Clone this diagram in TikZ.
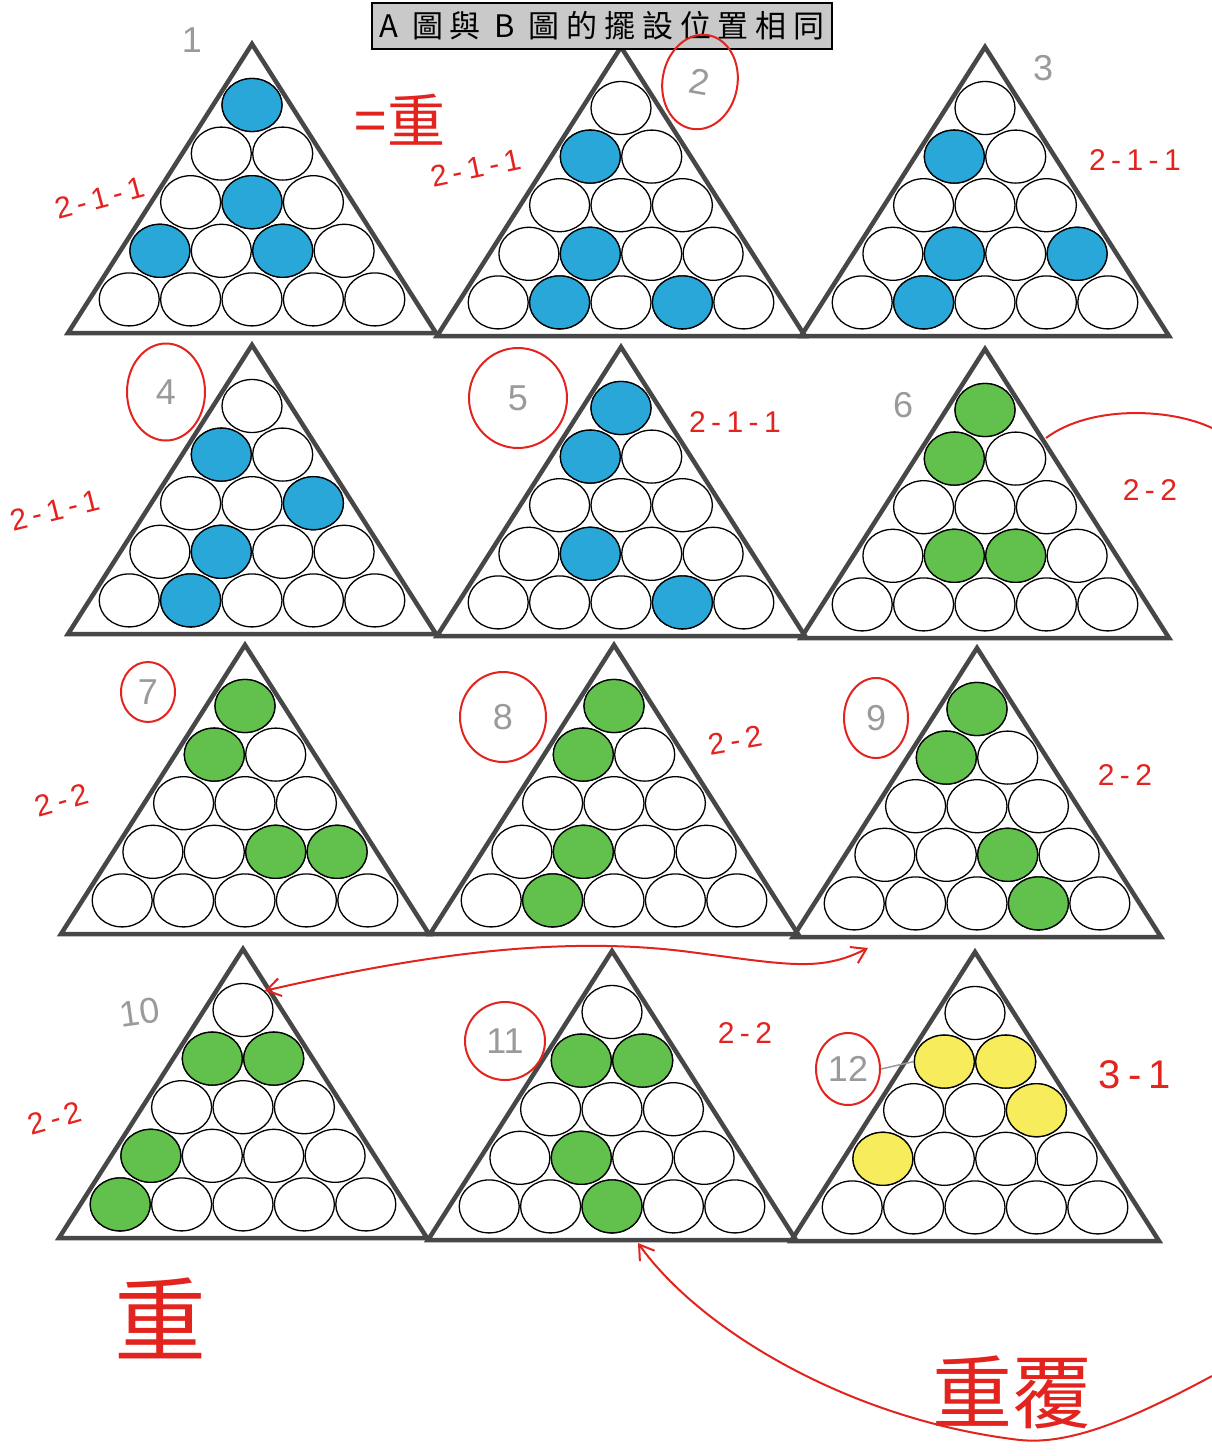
\documentclass[tikz,border=0pt]{standalone}
\usepackage{fontspec}
\setmainfont{Liberation Sans}
\newfontfamily\cjk{Noto Sans CJK TC}
\newfontfamily\baslikFont[LetterSpace=22]{Noto Sans CJK TC}
\newfontfamily\notFont[LetterSpace=18]{Liberation Sans}
\usetikzlibrary{arrows.meta,shapes.geometric}
\definecolor{topMavi}{HTML}{2AA7D9}
\definecolor{topYesil}{HTML}{62C04C}
\definecolor{topSari}{HTML}{F6EC5C}
\definecolor{kirmizi}{HTML}{E3231E}
\definecolor{ucgenGri}{HTML}{474747}
\definecolor{kursunGri}{HTML}{9A9A9A}
\definecolor{baslikGri}{HTML}{C9C9C9}
% #1 ad, #2-#3 tepe, #4 renk, #5 dolu bilyeler (sira/sutun)
\newcommand{\ucgen}[5]{%
  \draw[ucgenCizgi] (#2,#3) -- ++(-184,289) -- ++(368,0) -- cycle;
  \foreach \sira in {1,...,5}
    \foreach \sutun in {1,...,\sira}
      \node[bilye] (#1-\sira-\sutun) at ({#2+(\sutun-(\sira+1)/2)*61.4},{#3+61+(\sira-1)*48.6}) {};
  \foreach \sira/\sutun in {#5}
    \node[bilye,fill=#4] (#1-\sira-\sutun-dolu) at (#1-\sira-\sutun) {};
}

\begin{document}
\begin{tikzpicture}[x=1pt,y=-1pt,>={Straight Barb[length=14pt,width=18pt]},
  bilye/.style={ellipse,draw=black,line width=1.3pt,fill=white,minimum width=60pt,minimum height=53pt,inner sep=0pt},
  ucgenCizgi/.style={draw=ucgenGri,line width=4.5pt,line join=miter},
  notYazi/.style={text=kirmizi,font=\notFont\fontsize{30}{32}\selectfont},
  kursunYazi/.style={text=kursunGri,font=\fontsize{36}{38}\selectfont},
  daire/.style={ellipse,draw=kirmizi,line width=2pt,text=kursunGri,font=\fontsize{36}{38}\selectfont,inner sep=0pt},
  okCizgi/.style={kirmizi,line width=2pt}]
\useasboundingbox[fill=white] (0,0) rectangle (1212,1456);

\ucgen{t1}{252}{44}{topMavi}{1/1,3/2,4/1,4/3}
\ucgen{t2}{621}{47}{topMavi}{2/1,4/2,5/2,5/4}
\ucgen{t3}{985}{47}{topMavi}{2/1,4/2,4/4,5/2}
\ucgen{t4}{252}{345}{topMavi}{2/1,3/3,4/2,5/2}
\ucgen{t5}{621}{347}{topMavi}{1/1,2/1,4/2,5/4}
\ucgen{t6}{985}{349}{topYesil}{1/1,2/1,4/2,4/3}
\ucgen{t7}{245}{645}{topYesil}{1/1,2/1,4/3,4/4}
\ucgen{t8}{614}{645}{topYesil}{1/1,2/1,4/2,5/2}
\ucgen{t9}{977}{648}{topYesil}{1/1,2/1,4/3,5/4}
\ucgen{t10}{243}{949}{topYesil}{2/1,2/2,4/1,5/1}
\ucgen{t11}{612}{951}{topYesil}{2/1,2/2,4/2,5/3}
\ucgen{t12}{975}{952}{topSari}{2/1,2/2,3/3,4/1}

\node[draw=black,line width=1.5pt,fill=baslikGri,minimum width=460pt,minimum height=46pt,inner sep=0pt,
  font=\baslikFont\fontsize{31}{33}\selectfont] (baslik) at (602,26) {A 圖與 B 圖的擺設位置相同};

% kursun kalem numaralari
\node[kursunYazi] (no1) at (192,40) {1};
\node[kursunYazi] (no3) at (1043,68) {3};
\node[kursunYazi] (no6) at (903,405) {6};
\node[kursunYazi,rotate=8] (no10) at (140,1012) {10};
\node[daire,minimum width=75pt,minimum height=95pt,rotate=-10] (d2) at (700,82) {2};
\node[daire,minimum width=78pt,minimum height=97pt] (d4) at (166,392) {4};
\node[daire,minimum width=98pt,minimum height=100pt] (d5) at (518,398) {5};
\node[daire,minimum width=54pt,minimum height=60pt] (d7) at (148,692) {7};
\node[daire,minimum width=86pt,minimum height=90pt] (d8) at (503,717) {8};
\node[daire,minimum width=64pt,minimum height=80pt] (d9) at (876,718) {9};
\node[daire,minimum width=80pt,minimum height=78pt] (d11) at (505,1041) {11};
\node[daire,minimum width=64pt,minimum height=72pt] (d12) at (848,1069) {12};
\draw[kursunGri,line width=1.5pt] (d12.east) -- (t12-2-1.west);

% kirmizi notlar
\node[notYazi,rotate=15] (n1) at (100,198) {2-1-1};
\node[notYazi,rotate=12] (n2) at (476,168) {2-1-1};
\node[notYazi] (n3) at (1135,160) {2-1-1};
\node[notYazi,rotate=14] (n4) at (55,510) {2-1-1};
\node[notYazi] (n5) at (735,422) {2-1-1};
\node[notYazi] (n6) at (1150,490) {2-2};
\node[notYazi,rotate=16] (n7) at (62,800) {2-2};
\node[notYazi,rotate=10] (n8) at (735,740) {2-2};
\node[notYazi] (n9) at (1125,775) {2-2};
\node[notYazi,rotate=16] (n10) at (55,1118) {2-2};
\node[notYazi] (n11) at (745,1033) {2-2};
\node[notYazi,font=\notFont\fontsize{40}{42}\selectfont] (n12) at (1135,1075) {3-1};
\node[text=kirmizi,font=\cjk\fontsize{58}{60}\selectfont] (ayni1) at (400,120) {=重};
\node[text=kirmizi,font=\cjk\fontsize{92}{94}\selectfont] (ayni2) at (160,1318) {重};
\node[text=kirmizi,font=\cjk\fontsize{80}{82}\selectfont] (tekrar) at (1012,1392) {重覆};

% oklar
\coordinate (egriBas) at (1046,438);
\coordinate (egriSon) at (1212,428);
\coordinate (okUc) at (868,948);
\coordinate (altBas) at (1212,1376);
\coordinate (altUc) at (638,1243);
\draw[okCizgi] (egriBas) .. controls (1090,405) and (1170,408) .. (egriSon);
\draw[okCizgi,<->] (t10-1-1.north east) .. controls (420,955) and (560,935) .. (690,952)
  .. controls (790,965) and (820,972) .. (okUc);
\draw[okCizgi,->] (altBas) .. controls (1130,1420) and (1070,1445) .. (1020,1440)
  .. controls (850,1420) and (700,1330) .. (altUc);
\end{tikzpicture}
\end{document}
